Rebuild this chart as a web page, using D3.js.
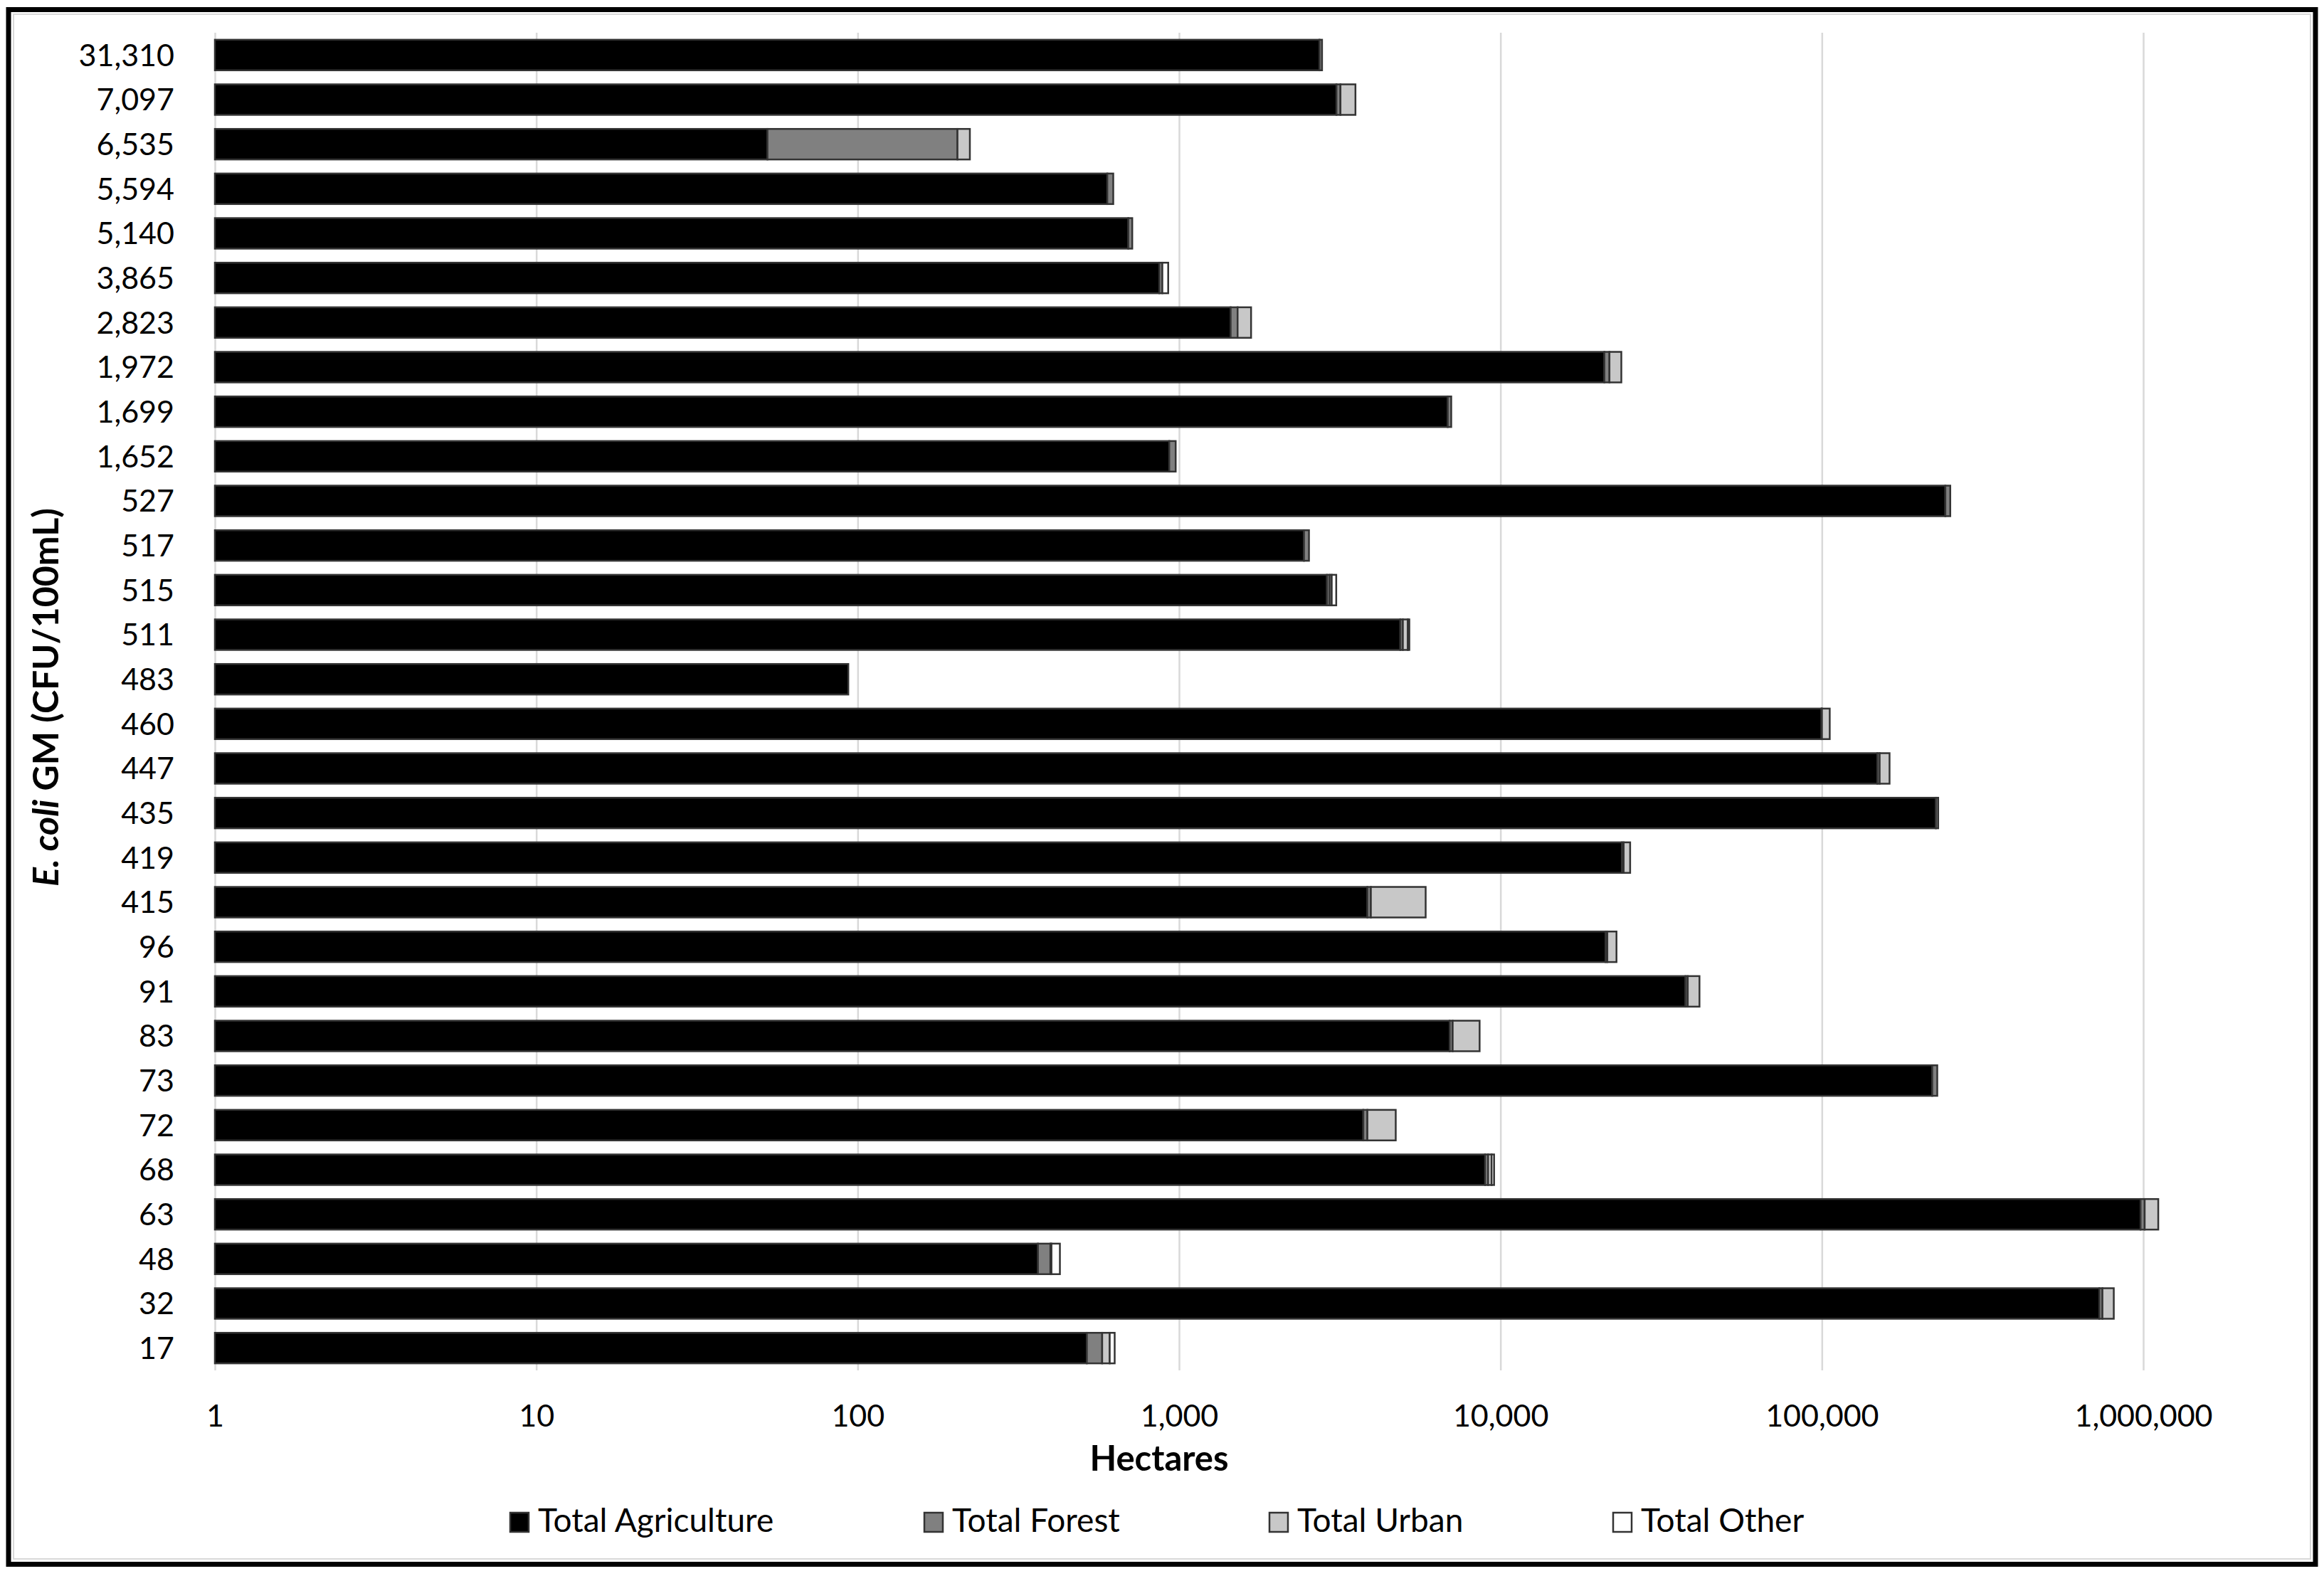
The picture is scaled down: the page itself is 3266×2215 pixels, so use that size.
<!DOCTYPE html>
<html>
<head>
<meta charset="utf-8">
<script src="https://cdn.jsdelivr.net/npm/d3@7"></script>
<style>
  html, body { margin: 0; padding: 0; background: #fff; }
  svg { display: block; }
  text { font-family: Lato, "Open Sans", "Liberation Sans", sans-serif; fill: #000; }
</style>
</head>
<body>
<svg id="chart" width="3266" height="2215"></svg>
<script>
// ---- data ----
const categories = ["31,310","7,097","6,535","5,594","5,140","3,865","2,823","1,972","1,699","1,652",
                    "527","517","515","511","483","460","447","435","419","415",
                    "96","91","83","73","72","68","63","48","32","17"];
const agriculture = [2734, 3088, 52.4, 598, 695, 868, 1447, 21050, 6853, 932,
                     242200, 2447, 2885, 4880, 93.5, 99750, 148800, 226300, 23870, 3854,
                     21230, 37640, 6949, 220500, 3743, 8959, 980800, 363.8, 729900, 516.4];
const forest = [51, 90, 152, 26, 20, 19, 74, 780, 174, 44,
                8700, 89, 55, 89, 0, 300, 2500, 3800, 300, 97,
                270, 610, 151, 8100, 111, 194, 29400, 34, 16500, 60];
const urban = [0, 360, 19, 0, 0, 0, 154, 1940, 0, 0,
               0, 0, 45, 181, 0, 5750, 11100, 0, 1150, 1900,
               1460, 3360, 1512, 0, 868, 230, 103300, 3, 63200, 32];
const other = [0, 0, 0, 0, 0, 38, 0, 0, 0, 0,
               0, 0, 98, 55, 0, 0, 0, 0, 0, 0,
               0, 0, 0, 0, 0, 170, 0, 25, 0, 22];
const seriesNames = ["Total Agriculture", "Total Forest", "Total Urban", "Total Other"];
const seriesColors = ["#000000", "#808080", "#c8c8c8", "#ffffff"];
const tickValues = [1, 10, 100, 1000, 10000, 100000, 1000000];
const tickLabels = ["1", "10", "100", "1,000", "10,000", "100,000", "1,000,000"];

// ---- table for stacking ----
const keys = ["agriculture", "forest", "urban", "other"];
const table = categories.map((c, i) => ({
  cat: c, agriculture: agriculture[i], forest: forest[i], urban: urban[i], other: other[i]
}));
const stacked = d3.stack().keys(keys)(table);

// ---- layout ----
const svg = d3.select("#chart");
const W = 3266, H = 2215;
const plot = { left: 302, right: 3012, top: 46, bottom: 1926 };

const x = d3.scaleLog().domain([1, 1e6]).range([plot.left, plot.right]);
const y = d3.scaleBand().domain(categories).range([plot.top, plot.bottom])
  .paddingInner(0.315).paddingOuter(0.1575);

// background + outer border
svg.append("rect").attr("x", 0).attr("y", 0).attr("width", W).attr("height", H).attr("fill", "#fff");
svg.append("rect").attr("x", 19).attr("y", 20).attr("width", 3228).attr("height", 2171)
  .attr("fill", "none").attr("stroke", "#d9d9d9").attr("stroke-width", 2);
svg.append("rect").attr("x", 12).attr("y", 13.5).attr("width", 3242).attr("height", 2185)
  .attr("fill", "none").attr("stroke", "#000").attr("stroke-width", 7);

// gridlines
const grid = d3.axisBottom(x).tickValues(tickValues).tickSize(-(plot.bottom - plot.top)).tickFormat("");
svg.append("g").attr("transform", `translate(0,${plot.bottom})`).call(grid)
  .call(g => g.select(".domain").remove())
  .call(g => g.selectAll("line").attr("stroke", "#d9d9d9").attr("stroke-width", 2.5));

// bars
const layers = svg.append("g").selectAll("g").data(stacked).join("g")
  .attr("fill", (d, i) => seriesColors[i]);
layers.selectAll("rect").data(d => d.filter(s => s[1] - s[0] > 0)).join("rect")
  .attr("x", d => x(Math.max(1, d[0])))
  .attr("width", d => x(d[1]) - x(Math.max(1, d[0])))
  .attr("y", d => y(d.data.cat))
  .attr("height", y.bandwidth())
  .attr("stroke", "#333")
  .attr("stroke-width", 2.5);

// x axis labels
const xAxis = d3.axisBottom(x).tickValues(tickValues)
  .tickFormat((d, i) => tickLabels[i]).tickSize(0).tickPadding(0);
svg.append("g").attr("transform", `translate(0,${plot.bottom})`).call(xAxis)
  .call(g => g.select(".domain").remove())
  .call(g => g.selectAll("text").attr("font-size", 43).attr("dy", null).attr("y", 79)
    .attr("font-family", "Lato").attr("fill", "#000"));

// y axis labels
const yAxis = d3.axisLeft(y).tickSize(0).tickPadding(0);
svg.append("g").attr("transform", `translate(245,0)`).call(yAxis)
  .call(g => g.select(".domain").remove())
  .call(g => g.selectAll("text").attr("font-size", 43).attr("dy", "0.36em")
    .attr("font-family", "Lato").attr("fill", "#000"));

// axis titles
svg.append("text").attr("x", 1629).attr("y", 2067).attr("text-anchor", "middle")
  .attr("font-size", 49).attr("font-weight", "bold").text("Hectares");

const yt = svg.append("text").attr("transform", `translate(82,${(plot.top + plot.bottom) / 2 - 6}) rotate(-90)`)
  .attr("text-anchor", "middle").attr("font-size", 50).attr("font-weight", "bold");
yt.append("tspan").attr("font-style", "italic").text("E. coli");
yt.append("tspan").text(" GM (CFU/100mL)");

// legend
const legendX = [717, 1299, 1784, 2267];
const lg = svg.append("g").selectAll("g").data(seriesNames).join("g")
  .attr("transform", (d, i) => `translate(${legendX[i]},2126)`);
lg.append("rect").attr("width", 26).attr("height", 27)
  .attr("fill", (d, i) => seriesColors[i]).attr("stroke", "#333").attr("stroke-width", 2.5);
lg.append("text").attr("x", 39).attr("y", 27).attr("font-size", 46).text(d => d);
</script>
</body>
</html>
